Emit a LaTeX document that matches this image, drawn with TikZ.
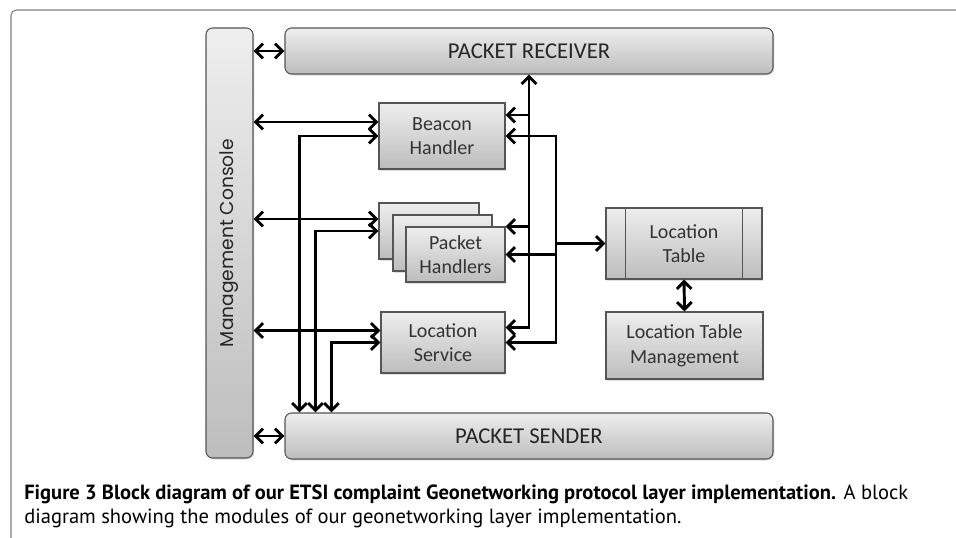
\documentclass[tikz,border=0pt]{standalone}
\usepackage{fontspec}
\setmainfont{Carlito}
\newfontfamily\mcfont{Poppins}
\newfontfamily\capfont{PT Sans}
\usetikzlibrary{positioning,arrows.meta,calc,shadows}
\definecolor{boxline}{HTML}{555555}
\definecolor{boxtop}{HTML}{EEEEEE}
\definecolor{boxbot}{HTML}{BDBDBD}
\definecolor{labeltext}{HTML}{333333}
\definecolor{frameline}{HTML}{7F7F7F}

\begin{document}
\begin{tikzpicture}[x=0.75pt, y=-0.75pt,
        >={Straight Barb[length=5.5pt, width=11pt]},
        block/.style={rectangle, draw=boxline, line width=0.8pt, top
        color=boxtop, bottom color=boxbot, text=labeltext, align=center,
        inner sep=0pt, font=\fontsize{15}{18.5}\selectfont,
        drop shadow={shadow xshift=1pt, shadow yshift=-1.2pt, opacity=0.25}},
        bar/.style={block, rounded corners=5pt, text=black!85,
        font=\fontsize{17}{20}\selectfont},
        link/.style={line width=2.2pt, black},
        caption/.style={anchor=base west, inner sep=0pt,
        font=\capfont\fontsize{15.4}{18}\selectfont},
      ]
      \useasboundingbox (0,0) rectangle (956,538);
      \draw[frameline, line width=0.8pt, rounded corners=4pt]
      (11,538) -- (11,10) -- (956,10);

      % long bars
      \node[bar, minimum width=35.25pt, minimum height=322.5pt] (mc) at
      (229.5, 243) {\rotatebox{90}{\mcfont\fontsize{14}{16}\selectfont
      Management Console}};
      \node[bar, minimum width=366pt, minimum height=34.5pt] (pr) at
      (529, 51) {PACKET RECEIVER};
      \node[bar, minimum width=366pt, minimum height=34.5pt] (ps) at
      (529, 436) {PACKET SENDER};

      % handlers
      \node[block, minimum width=94.5pt, minimum height=49.5pt] (bh) at
      (442, 136) {Beacon\\Handler};
      \node[block, minimum width=75pt, minimum height=42pt] (ph3) at
      (429, 231) {};
      \node[block, minimum width=74.25pt, minimum height=42pt] (ph2) at
      (442.5, 243) {};
      \node[block, minimum width=74.25pt, minimum height=41.25pt] (ph) at
      (455.5, 254.5) {Packet\\Handlers};
      \node[block, minimum width=93pt, minimum height=45.75pt] (ls) at
      (443, 342.5) {Location\\Service};

      % location table
      \node[block, minimum width=117pt, minimum height=53.25pt] (lt) at
      (684, 243.5) {Location\\Table};
      \draw[boxline, line width=0.8pt] ($(lt.north west)+(20,0)$) --
      ($(lt.south west)+(20,0)$);
      \draw[boxline, line width=0.8pt] ($(lt.north east)+(-20,0)$) --
      ($(lt.south east)+(-20,0)$);
      \node[block, minimum width=117.75pt, minimum height=50.25pt] (ltm) at
      (684.5, 345.5) {Location Table\\Management};

      % management console links
      \draw[link, <->] (mc.east |- pr.west) -- (pr.west);
      \draw[link, <->] (mc.east |- ps.west) -- (ps.west);
      \coordinate (bhm) at ($(bh.west)+(0,-14)$);
      \coordinate (phm) at ($(ph3.west)+(0,-12)$);
      \coordinate (lsm) at ($(ls.west)+(0,-12)$);
      \draw[link, <->] (mc.east |- bhm) -- (bhm);
      \draw[link, <->] (mc.east |- phm) -- (phm);
      \draw[link, <->] (mc.east |- lsm) -- (lsm);

      % down to the sender
      \draw[link, <->] (bh.west) -| ($(ps.north west)+(15,0)$);
      \draw[link, <->] (ph3.west) -| ($(ps.north west)+(31,0)$);
      \draw[link, <->] (ls.west) -| ($(ps.north west)+(47,0)$);

      % up from the receiver
      \coordinate (bhr) at ($(bh.east)+(0,-21)$);
      \coordinate (phr) at ($(ph.east)+(0,-28)$);
      \coordinate (lsr) at ($(ls.east)+(0,-15)$);
      \draw[link, <->] (lsr) -| (pr.south);
      \draw[link, ->] (pr.south |- bhr) -- (bhr);
      \draw[link, ->] (pr.south |- phr) -- (phr);

      % location table bus
      \coordinate (bus) at (556, 243.5);
      \draw[link, <->] (bh.east) -| (bus) |- (ls.east);
      \draw[link, ->] (bus |- ph.east) -- (ph.east);
      \draw[link, ->] (bus) -- (lt.west);
      \draw[link, <->] (lt.south) -- (ltm.north);

      % caption
      \node[caption] (cap1) at (24, 499) {\textbf{Figure 3 Block diagram of
      our ETSI complaint Geonetworking protocol layer implementation.} A
      block};
      \node[caption] (cap2) at ($(cap1.base west)+(0,24)$) {diagram showing
      the modules of our geonetworking layer implementation.};
    \end{tikzpicture}
\end{document}
